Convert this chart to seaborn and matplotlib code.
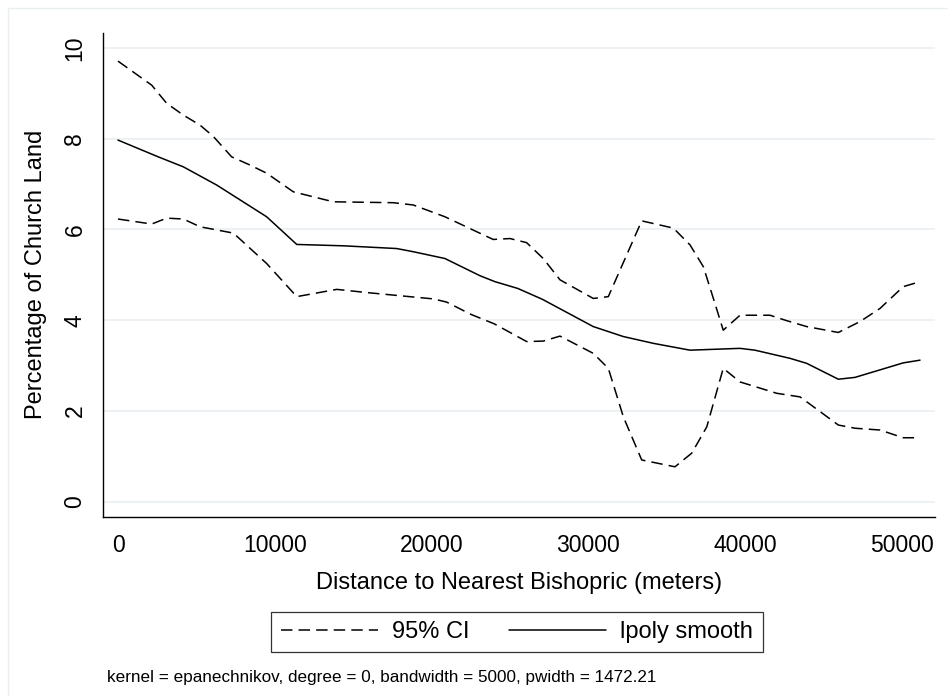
import pandas as pd
import matplotlib
matplotlib.use("Agg")
import matplotlib.pyplot as plt
import seaborn as sns
from matplotlib.patches import Rectangle

# lpoly smooth (solid line)
fit_x = [0, 2570, 4170, 6290, 9480, 11400, 14370, 17770, 18830, 20850, 23090,
         24040, 25500, 27070, 30310, 32230, 34150, 36480, 39670, 40620, 42860,
         43920, 45940, 47000, 50080, 51150]
fit_y = [7.97, 7.60, 7.38, 6.98, 6.28, 5.67, 5.64, 5.58, 5.51, 5.36, 4.98,
         4.85, 4.70, 4.46, 3.86, 3.64, 3.49, 3.34, 3.38, 3.34, 3.16,
         3.05, 2.70, 2.74, 3.06, 3.12]

# upper 95% CI band
hi_x = [0, 2150, 3105, 4170, 5230, 6080, 7250, 8420, 9480, 11180, 13730, 17560,
        18830, 20850, 22880, 23930, 25000, 26060, 27120, 28190, 30310, 31270,
        33400, 35420, 36480, 37330, 37970, 38600, 39670, 41580, 42650, 43920,
        45940, 47320, 48600, 50080, 51150]
hi_y = [9.71, 9.18, 8.78, 8.52, 8.30, 8.05, 7.60, 7.42, 7.24, 6.83, 6.61, 6.59,
        6.54, 6.28, 5.95, 5.78, 5.80, 5.71, 5.36, 4.89, 4.48, 4.52,
        6.19, 6.03, 5.66, 5.18, 4.48, 3.78, 4.11, 4.11, 3.99, 3.86,
        3.73, 3.97, 4.26, 4.74, 4.85]

# lower 95% CI band
lo_x = [0, 2150, 3105, 4170, 5230, 7360, 9480, 11400, 13950, 15860, 17980, 20110,
        20960, 22500, 24000, 26060, 27120, 28190, 30310, 31270, 32230, 33400,
        35520, 36590, 37550, 38600, 39670, 42010, 43500, 45940, 47000, 48600,
        50080, 51150]
lo_y = [6.23, 6.12, 6.25, 6.23, 6.06, 5.92, 5.25, 4.52, 4.68, 4.61, 4.54, 4.47,
        4.40, 4.13, 3.92, 3.53, 3.54, 3.65, 3.27, 2.94, 1.87, 0.92,
        0.77, 1.07, 1.65, 2.94, 2.64, 2.39, 2.31, 1.69, 1.62, 1.58,
        1.41, 1.41]

x_ticks = [0, 10000, 20000, 30000, 40000, 50000]
y_ticks = [0, 2, 4, 6, 8, 10]
note = "kernel = epanechnikov, degree = 0, bandwidth = 5000, pwidth = 1472.21"

sns.set_theme(style="white")
plt.rcParams['font.family'] = ['Liberation Sans', 'DejaVu Sans']
plt.rcParams['text.color'] = 'black'
plt.rcParams['axes.labelcolor'] = 'black'

fig = plt.figure(figsize=(9.48, 6.96), dpi=100)
ax = fig.add_axes([102.7 / 948, 1 - 516.7 / 696, (935 - 102.7) / 948, (516.7 - 33) / 696])

dash = (7.5, 4)
sns.lineplot(x=hi_x, y=hi_y, ax=ax, color='black', lw=1.1, estimator=None, sort=False)
sns.lineplot(x=lo_x, y=lo_y, ax=ax, color='black', lw=1.1, estimator=None, sort=False)
sns.lineplot(x=fit_x, y=fit_y, ax=ax, color='black', lw=1.1, estimator=None, sort=False)
lines = ax.get_lines()
lines[0].set_dashes(dash)
lines[1].set_dashes(dash)

ax.set_xlim(-976, 52105)
ax.set_ylim(-0.33, 10.33)
ax.set_xticks(x_ticks)
ax.set_yticks(y_ticks)
ax.set_xticklabels([str(t) for t in x_ticks])
ax.set_yticklabels([str(t) for t in y_ticks], rotation=90, va='center')
ax.yaxis.grid(True, color='#eaf1f3', lw=1.3)
ax.set_axisbelow(True)

for side in ['top', 'right']:
    ax.spines[side].set_visible(False)
for side in ['left', 'bottom']:
    ax.spines[side].set_color('black')
    ax.spines[side].set_linewidth(1.0)

ax.tick_params(axis='both', direction='out', length=7.2, width=0.8, color='black',
               labelsize=16.5, labelcolor='black')
ax.tick_params(axis='x', pad=5.4)
ax.tick_params(axis='y', pad=4.5)

ax.set_xlabel('Distance to Nearest Bishopric (meters)', fontsize=17, va='baseline',
              color='black')
ax.xaxis.set_label_coords(0.5, (516.7 - 589) / 483.7)
ax.set_ylabel('Percentage of Church Land', fontsize=17, va='baseline', color='black')
ax.yaxis.set_label_coords((42.5 - 102.7) / 832.3, 0.5)

leg = fig.legend([lines[0], lines[2]], ['95% CI', 'lpoly smooth'], loc='center',
                 bbox_to_anchor=(517 / 948, 1 - 632 / 696), ncol=2, fontsize=17,
                 frameon=True, fancybox=False, shadow=False, handlelength=4.1,
                 handletextpad=0.6, columnspacing=1.7, borderpad=0.4)
leg.get_frame().set_edgecolor('black')
leg.get_frame().set_linewidth(0.9)
for t in leg.get_texts():
    t.set_color('black')

fig.text(107 / 948, 1 - 681.7 / 696, note, fontsize=12.3, va='baseline', ha='left',
         color='black')

fig.add_artist(Rectangle((8 / 948, -0.1), 1.2, 1.1 - 8 / 696, fill=False,
                         edgecolor='#e8eff1', lw=1, transform=fig.transFigure))

fig.savefig('out.png', dpi=100)
